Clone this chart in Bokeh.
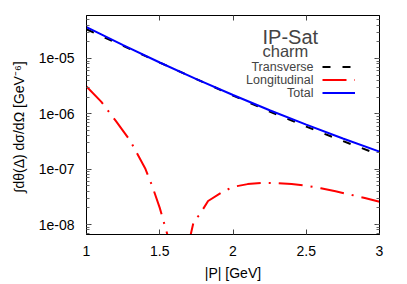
from bokeh.plotting import figure
from bokeh.models import (Range1d, FixedTicker, LinearAxis, LogAxis, Label, Legend,
                          LegendItem, CustomJSTickFormatter, CustomLabelingPolicy)
from bokeh.core.properties import value
from bokeh.embed import file_html
from bokeh.resources import INLINE

# ---------------- data ----------------
p_grid = [1.0, 1.25, 1.5, 1.75, 2.0, 2.25, 2.5, 2.75, 3.0]
total = [3.68e-5, 1.74e-5, 8.46e-6, 4.25e-6, 2.19e-6, 1.16e-6, 6.37e-7, 3.59e-7, 2.08e-7]
transverse = [3.37e-5, 1.69e-5, 8.44e-6, 4.24e-6, 2.14e-6, 1.10e-6, 5.88e-7, 3.22e-7, 1.82e-7]

p_long = [1.0, 1.1, 1.2, 1.3, 1.4, 1.45, 1.5, 1.64, 1.733, 1.77, 1.83, 1.93, 2.0,
          2.1, 2.2, 2.3, 2.4, 2.5, 2.6, 2.7, 2.8, 2.9, 3.0]
longitudinal = [3.12e-6, 1.66e-6, 7.46e-7, 3.22e-7, 1.04e-7, 4.84e-8, 2.0e-8, 1.0e-9,
                1.17e-8, 1.48e-8, 2.66e-8, 3.89e-8, 4.79e-8, 5.37e-8, 5.65e-8, 5.62e-8,
                5.37e-8, 5.01e-8, 4.52e-8, 3.98e-8, 3.47e-8, 3.02e-8, 2.57e-8]

x_ticks = [1, 1.5, 2, 2.5, 3]
y_ticks = [1e-8, 1e-7, 1e-6, 1e-5]
y_minor = [k * 10.0 ** n for n in range(-9, -4) for k in range(1, 10)]

series_names = ["Transverse", "Longitudinal", "Total"]
title_text = "IP-Sat"
subtitle_text = "charm"
x_label = "|P| [GeV]"
y_label = "\u222bd\u03b8(\u0394) d\u03c3/d\u03a9  [GeV\u207b\u2076]"

FONT = "Liberation Sans"

p = figure(width=407, height=284, y_axis_type="log",
           x_range=Range1d(1, 3), y_range=Range1d(6.6e-9, 5.98e-5),
           output_backend="svg", toolbar_location=None,
           min_border_left=86, min_border_right=28, min_border_top=15,
           min_border_bottom=50)
p.grid.visible = False
p.outline_line_color = "black"
p.outline_line_width = 1
p.background_fill_color = "white"
p.border_fill_color = "white"

fmt = CustomJSTickFormatter(code="""
const s = tick.toExponential(0).split('e');
const e = parseInt(s[1]);
return s[0] + 'e' + (e < 0 ? '-' : '+') + String(Math.abs(e)).padStart(2, '0');
""")

no_labels = CustomLabelingPolicy(code="""
for (const i of Array.from(indices)) { indices.unset(i) }
return indices
""")


def style_axis(ax, labels=True):
    ax.axis_line_color = "black"
    ax.major_tick_in = 5
    ax.major_tick_out = 0
    ax.minor_tick_in = 3
    ax.minor_tick_out = 0
    ax.major_tick_line_color = "#444444"
    ax.minor_tick_line_color = "#666666"
    ax.major_label_text_font = FONT
    ax.major_label_text_color = "black"
    ax.major_label_text_font_size = "14px"
    ax.axis_label_text_font = FONT
    ax.axis_label_text_font_style = "normal"
    ax.axis_label_text_font_size = "14px"
    ax.axis_label_text_color = "black"
    if not labels:
        ax.major_label_policy = no_labels
        ax.major_label_text_font_size = "1px"
        ax.major_label_standoff = 0


xaxis = p.xaxis[0]
xaxis.ticker = FixedTicker(ticks=x_ticks, minor_ticks=[])
style_axis(xaxis)
xaxis.major_label_standoff = 11
xaxis.axis_label = x_label
xaxis.axis_label_standoff = 6

yaxis = p.yaxis[0]
yaxis.ticker = FixedTicker(ticks=y_ticks, minor_ticks=y_minor)
yaxis.formatter = fmt
style_axis(yaxis)
yaxis.major_label_standoff = 12
yaxis.axis_label = y_label
yaxis.axis_label_standoff = 9

top = LinearAxis(ticker=FixedTicker(ticks=x_ticks, minor_ticks=[]))
style_axis(top, labels=False)
p.add_layout(top, "above")
right = LogAxis(ticker=FixedTicker(ticks=y_ticks, minor_ticks=y_minor))
style_axis(right, labels=False)
p.add_layout(right, "right")

rT = p.line(p_grid, transverse, line_color="black", line_width=2, line_dash="8 12")
rL = p.line(p_long, longitudinal, line_color="#ff0000", line_width=2, line_dash="24 8 2 8")
rA = p.line(p_grid, total, line_color="#0000ff", line_width=2)

for name, yy in zip(series_names, [167.5, 154.5, 141.5]):
    p.add_layout(Label(x=227, y=yy, x_units="screen", y_units="screen", text=name,
                       text_align="right", text_baseline="middle",
                       text_font=FONT, text_font_size="12.5px"))

p.add_layout(Label(x=176, y=198, x_units="screen", y_units="screen", text=title_text,
                   text_align="left", text_baseline="alphabetic",
                   text_font=FONT, text_font_size="20px"))
p.add_layout(Label(x=176, y=184, x_units="screen", y_units="screen", text=subtitle_text,
                   text_align="left", text_baseline="alphabetic",
                   text_font=FONT, text_font_size="16.5px"))

legend = Legend(items=[LegendItem(label=value(" "), renderers=[r]) for r in (rT, rL, rA)],
                location=(236, 135), padding=0, margin=0, spacing=0,
                glyph_width=33, glyph_height=13, label_height=13, label_width=1,
                label_standoff=0, border_line_color=None, background_fill_alpha=0,
                label_text_font_size="12px")
p.add_layout(legend)

open("out.html", "w").write(file_html(p, INLINE))
